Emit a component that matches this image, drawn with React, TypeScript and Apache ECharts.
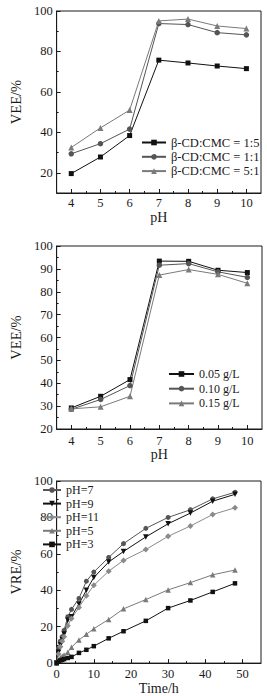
import React, { useEffect, useRef } from "react";
import * as echarts from "echarts";

// ---- Data ----
const phValues = [4, 5, 6, 7, 8, 9, 10];
const ratio15 = [19.6, 27.8, 38.4, 75.7, 74.3, 72.8, 71.5];
const ratio11 = [29.4, 34.4, 41.6, 93.8, 93.3, 89.3, 88.2];
const ratio51 = [32.5, 42.2, 51.0, 95.1, 96.0, 92.6, 91.3];

const conc005 = [29.2, 34.3, 41.6, 93.4, 93.3, 89.4, 88.4];
const conc010 = [28.6, 32.9, 39.0, 91.6, 92.3, 88.7, 86.3];
const conc015 = [28.8, 29.7, 34.3, 87.3, 89.7, 87.6, 83.7];

const times = [0, 0.5, 1, 1.5, 2, 3, 4, 6, 8, 10, 14, 18, 24, 30, 36, 42, 48];
const vrePH7 = [0, 8, 12, 14.5, 18, 25.5, 29.5, 35.5, 45, 50, 58, 65.6, 74, 80, 84.2, 90.2, 93.8];
const vrePH9 = [0, 6, 10, 13, 16, 23.5, 25.5, 32.5, 40, 47, 55.5, 61.3, 69.3, 76.5, 82.4, 88.9, 92.7];
const vrePH11 = [0, 5, 9, 12, 14.5, 20.5, 24.5, 30.5, 37, 42.7, 50.5, 56.4, 62.4, 69.6, 75.3, 81.6, 85.3];
const vrePH5 = [0, 1.5, 3, 3.8, 4.5, 6, 8.7, 12.7, 15.8, 18.9, 24, 29.8, 34.9, 40.2, 44.2, 48.5, 51.1];
const vrePH3 = [0, 0.8, 1.5, 1.8, 2.2, 2.8, 3.4, 5.6, 7.3, 9.3, 13.6, 17.5, 23.2, 30.2, 34.4, 39.1, 43.8];

const pHTicks = [4, 5, 6, 7, 8, 9, 10];
const pHMinor = [4.5, 5.5, 6.5, 7.5, 8.5, 9.5];
const vee1Ticks = [20, 40, 60, 80, 100];
const vee1Minor = [30, 50, 70, 90];
const vee2Ticks = [20, 30, 40, 50, 60, 70, 80, 90, 100];
const vee2Minor = [25, 35, 45, 55, 65, 75, 85, 95];
const timeTicks = [0, 10, 20, 30, 40, 50];
const timeMinor = [5, 15, 25, 35, 45];
const vreTicks = [0, 20, 40, 60, 80, 100];
const vreMinor = [10, 30, 50, 70, 90];

const legend1 = ["β-CD:CMC = 1:5", "β-CD:CMC = 1:1", "β-CD:CMC = 5:1"];
const legend2 = ["0.05 g/L", "0.10 g/L", "0.15 g/L"];
const legend3 = ["pH=7", "pH=9", "pH=11", "pH=5", "pH=3"];

const FONT = "Liberation Serif, serif";
const INK = "#1a1a1a";
const BLACK = "#111111";
const DARK = "#555555";
const MID = "#7a7a7a";
const LIGHT = "#8a8a8a";

function mainX(gi: number, min: number, max: number, ticks: number[], name: string, nameGap: number, margin: number) {
  return {
    type: "value", gridIndex: gi, min, max, position: "bottom",
    name, nameLocation: "middle", nameGap,
    nameTextStyle: { fontFamily: FONT, fontSize: 14, color: INK, verticalAlign: "top" },
    axisLine: { show: true, lineStyle: { color: INK, width: 1 } },
    axisTick: { show: true, inside: true, length: 4, customValues: ticks, lineStyle: { color: INK } },
    axisLabel: { customValues: ticks, fontFamily: FONT, fontSize: 12.5, color: INK, margin },
    splitLine: { show: false },
  };
}
function minorX(gi: number, min: number, max: number, ticks: number[]) {
  return {
    type: "value", gridIndex: gi, min, max, position: "bottom",
    axisLine: { show: false },
    axisTick: { show: true, inside: true, length: 2, customValues: ticks, lineStyle: { color: INK } },
    axisLabel: { show: false },
    splitLine: { show: false },
  };
}
function mainY(gi: number, min: number, max: number, ticks: number[], name: string, nameGap: number) {
  return {
    type: "value", gridIndex: gi, min, max, position: "left",
    name, nameLocation: "middle", nameGap, nameRotate: 90,
    nameTextStyle: { fontFamily: FONT, fontSize: 14.5, color: INK },
    axisLine: { show: true, lineStyle: { color: INK, width: 1 } },
    axisTick: { show: true, inside: true, length: 4, customValues: ticks, lineStyle: { color: INK } },
    axisLabel: { customValues: ticks, fontFamily: FONT, fontSize: 12.5, color: INK, margin: 4 },
    splitLine: { show: false },
  };
}
function minorY(gi: number, min: number, max: number, ticks: number[]) {
  return {
    type: "value", gridIndex: gi, min, max, position: "left",
    axisLine: { show: false },
    axisTick: { show: true, inside: true, length: 2, customValues: ticks, lineStyle: { color: INK } },
    axisLabel: { show: false },
    splitLine: { show: false },
  };
}
function lineSeries(name: string, xs: number[], ys: number[], axis: number, color: string, symbol: string, size: number, rotate = 0) {
  return {
    type: "line", name, xAxisIndex: axis, yAxisIndex: axis,
    data: xs.map((x, i) => [x, ys[i]]),
    symbol, symbolSize: size, symbolRotate: rotate,
    lineStyle: { color, width: 1 },
    itemStyle: { color },
    showSymbol: true,
    z: 3,
  };
}
function legendOpt(data: string[], left: number, top: number, itemWidth: number, gap: number, fontSize = 12) {
  return {
    data, orient: "vertical", left, top, itemWidth, itemHeight: 7, itemGap: gap,
    padding: 0, selectedMode: false,
    textStyle: { fontFamily: FONT, fontSize, color: INK, lineHeight: 12 },
  };
}

export default function App() {
  const ref = useRef<HTMLDivElement>(null);
  useEffect(() => {
    if (!ref.current) return;
    const chart = echarts.init(ref.current, null, { renderer: "svg" });
    const gridBase = { show: true, borderColor: INK, borderWidth: 1, backgroundColor: "transparent", containLabel: false };
    chart.setOption({
      animation: false,
      backgroundColor: "#ffffff",
      grid: [
        { ...gridBase, left: 36, top: 11, width: 225, height: 182 },
        { ...gridBase, left: 37, top: 246, width: 225, height: 183 },
        { ...gridBase, left: 36, top: 481, width: 225, height: 183 },
      ],
      xAxis: [
        mainX(0, 3.5, 10.5, pHTicks, "pH", 17, 3),
        mainX(1, 3.5, 10.5, pHTicks, "pH", 18, 5),
        mainX(2, 0, 55, timeTicks, "Time/h", 16, 4),
        minorX(0, 3.5, 10.5, pHMinor),
        minorX(1, 3.5, 10.5, pHMinor),
        minorX(2, 0, 55, timeMinor),
      ],
      yAxis: [
        mainY(0, 10, 100, vee1Ticks, "VEE/%", 22),
        mainY(1, 20, 100, vee2Ticks, "VEE/%", 22),
        mainY(2, 0, 100, vreTicks, "VRE/%", 22),
        minorY(0, 10, 100, vee1Minor),
        minorY(1, 20, 100, vee2Minor),
        minorY(2, 0, 100, vreMinor),
      ],
      legend: [
        legendOpt(legend1, 141, 136, 24, 1.3, 12.5),
        legendOpt(legend2, 168, 368, 25, 2.7),
        legendOpt(legend3, 42, 484, 18, 1.6),
      ],
      series: [
        lineSeries(legend1[0], phValues, ratio15, 0, BLACK, "rect", 5),
        lineSeries(legend1[1], phValues, ratio11, 0, DARK, "circle", 5.5),
        lineSeries(legend1[2], phValues, ratio51, 0, MID, "triangle", 6),
        lineSeries(legend2[0], phValues, conc005, 1, BLACK, "rect", 5),
        lineSeries(legend2[1], phValues, conc010, 1, DARK, "circle", 5.5),
        lineSeries(legend2[2], phValues, conc015, 1, MID, "triangle", 6),
        lineSeries(legend3[0], times, vrePH7, 2, DARK, "circle", 5),
        lineSeries(legend3[1], times, vrePH9, 2, BLACK, "triangle", 5.5, 180),
        lineSeries(legend3[2], times, vrePH11, 2, LIGHT, "diamond", 6),
        lineSeries(legend3[3], times, vrePH5, 2, MID, "triangle", 5.5),
        lineSeries(legend3[4], times, vrePH3, 2, BLACK, "rect", 4.5),
      ],
    });
    return () => chart.dispose();
  }, []);
  return (
    <div
      ref={ref}
      style={{ position: "fixed", left: 0, top: 0, width: 267, height: 696, background: "#ffffff" }}
    />
  );
}
